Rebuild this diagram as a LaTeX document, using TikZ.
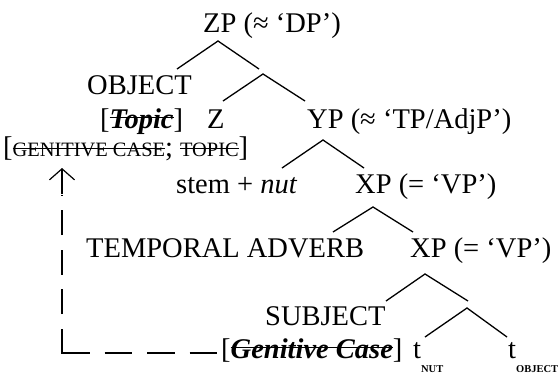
\documentclass[tikz,border=0pt]{standalone}
\usepackage{fontspec}
\setmainfont{Liberation Serif}
\usetikzlibrary{arrows.meta}
\newsavebox\strkbox
\newcommand\strk[2][0.34em]{\sbox\strkbox{#2}\rlap{\usebox\strkbox}\raisebox{#1}{\rule{\wd\strkbox}{1.2pt}}}
\newcommand\smc{\fontsize{20.4}{24}\selectfont}
\newcommand\subsc{\fontsize{10.5}{13}\selectfont\bfseries}
\tikzset{
  lbl/.style={anchor=base west, inner sep=0pt, font=\fontsize{28.5}{34}\selectfont},
  branch/.style={line width=1.3pt},
  dashline/.style={line width=1.2pt, dash pattern=on 25pt off 14.5pt},
  dashhor/.style={line width=1.2pt, dash pattern=on 27.5pt off 15pt},
}
\begin{document}
\begin{tikzpicture}[x=1pt,y=-1pt]
\useasboundingbox (0,0) rectangle (559,376);
% labels
\node[lbl] (zp) at (203,32) {ZP (≈ ‘DP’)};
\node[lbl] (obj) at (87,94) {OBJECT};
\node[lbl] (topic) at (100,128) {[\textbf{\textit{\strk{Topic}}}]};
\node[lbl] (z) at (207,128) {Z};
\node[lbl] (gencase) at (3,156) {[{\smc\strk{GENITIVE CASE}}; {\smc\strk{TOPIC}}]};
\node[lbl] (yp) at (307,128) {YP (≈ ‘TP/AdjP’)};
\node[lbl] (stem) at (176,193) {stem + \textit{nut}};
\node[lbl] (xp1) at (355,193) {XP (= ‘VP’)};
\node[lbl] (adv) at (86,257) {TEMPORAL ADVERB};
\node[lbl] (xp2) at (410,257) {XP (= ‘VP’)};
\node[lbl] (subj) at (265,325) {SUBJECT};
\node[lbl] (gen) at (221,358) {[\textbf{\textit{\strk{Genitive Case}}}]};
\node[lbl] (tnut) at (413,358) {t\raisebox{-14pt}{\subsc NUT}};
\node[lbl] (tobj) at (508,358) {t\raisebox{-14pt}{\subsc OBJECT}};
% branch points
\coordinate (zpA) at (218,41); \coordinate (zpL) at (177,69); \coordinate (zpR) at (259,69);
\coordinate (zbA) at (263,74); \coordinate (zbL) at (223,101); \coordinate (zbR) at (305,101);
\coordinate (ypA) at (323,140); \coordinate (ypL) at (282,168); \coordinate (ypR) at (364,168);
\coordinate (xpA) at (373,207); \coordinate (xpL) at (333,232); \coordinate (xpR) at (413,232);
\coordinate (xqA) at (425,274); \coordinate (xqL) at (386,301); \coordinate (xqR) at (468,301);
\coordinate (tA) at (467,308); \coordinate (tL) at (425,337); \coordinate (tR) at (507,337);
\draw[branch] (zpL) -- (zpA) -- (zpR);
\draw[branch] (zbL) -- (zbA) -- (zbR);
\draw[branch] (ypL) -- (ypA) -- (ypR);
\draw[branch] (xpL) -- (xpA) -- (xpR);
\draw[branch] (xqL) -- (xqA) -- (xqR);
\draw[branch] (tL) -- (tA) -- (tR);
% movement arrow
\coordinate (corner) at (62,353);
\coordinate (cornerV) at (62,353.6);
\coordinate (dashR) at (217,353);
\coordinate (dashT) at (62,195);
\coordinate (arrS) at (62,194);
\coordinate (tip) at (62,168);
\draw[dashhor] (corner) -- (dashR);
\draw[dashline] (cornerV) -- (dashT);
\draw[line width=1.2pt, -{Straight Barb[length=11pt,width=25pt,line width=1.2pt]}] (arrS) -- (tip);
\end{tikzpicture}
\end{document}
